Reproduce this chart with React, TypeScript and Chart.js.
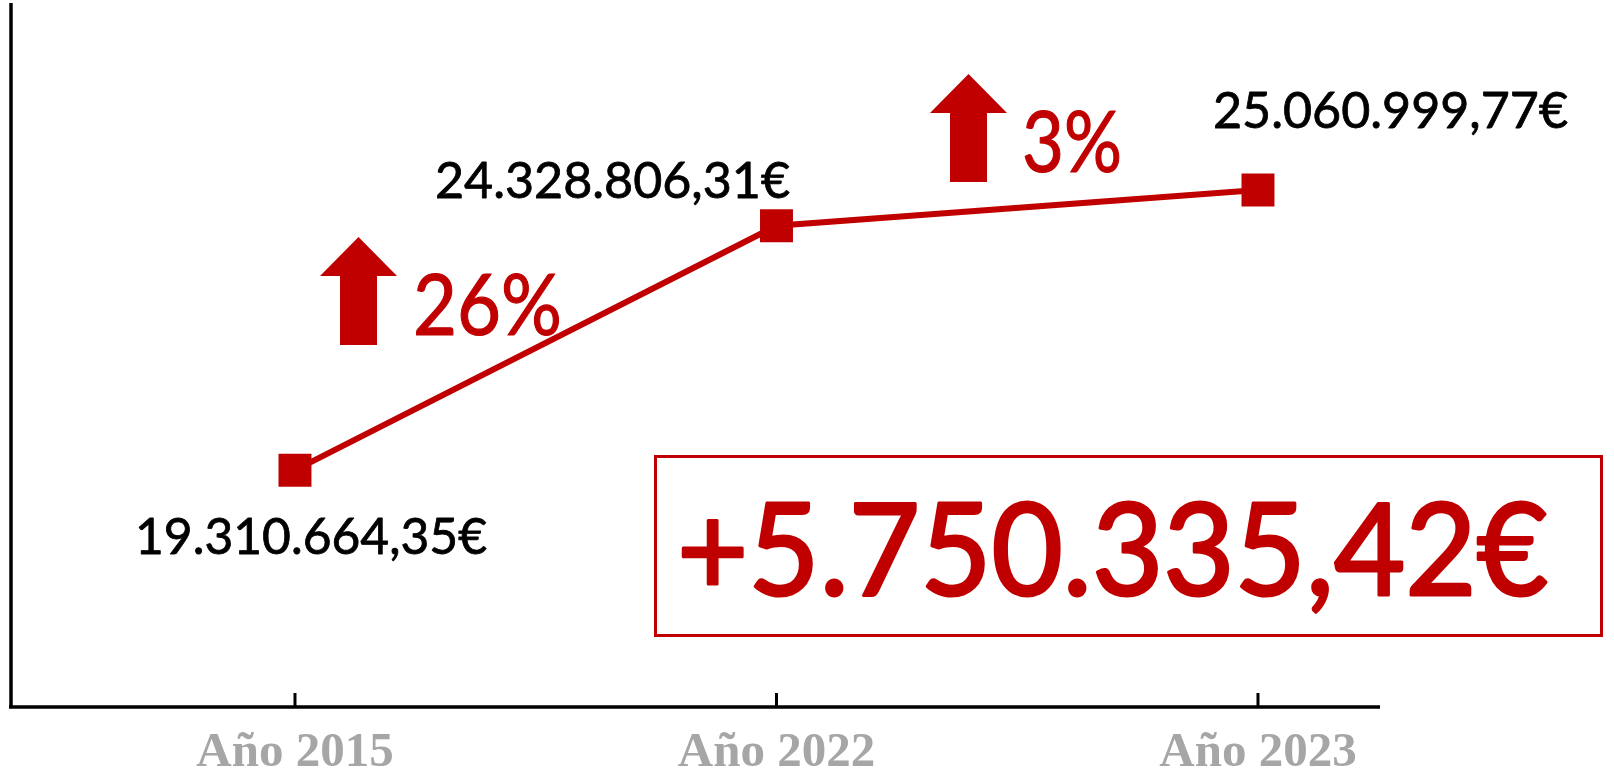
import React, { useEffect, useRef } from 'react';
import { Chart, registerables } from 'chart.js';

Chart.register(...registerables);

// ---- data ----
const categories = ['Año 2015', 'Año 2022', 'Año 2023'];
const values = [19310664.35, 24328806.31, 25060999.77];
const yMin = 14450000;
const yMax = 28900000;

const RED = '#C00000';
const LABEL_FONT = 'Lato, "Noto Sans", sans-serif';

function fmtEuro(v: number): string {
  const [i, d] = v.toFixed(2).split('.');
  return i.replace(/\B(?=(\d{3})+(?!\d))/g, '.') + ',' + d + '€';
}
function pct(a: number, b: number): string {
  return Math.round((b / a - 1) * 100) + '%';
}

const valueLabels = values.map(fmtEuro);
const changeLabels = [pct(values[0], values[1]), pct(values[1], values[2])];
const totalLabel = '+' + fmtEuro(values[2] - values[0]);

function fitText(ctx: CanvasRenderingContext2D, text: string, x: number, y: number, width: number, align: CanvasTextAlign, stroke = 0) {
  const w = ctx.measureText(text).width;
  const s = width / w;
  ctx.save();
  ctx.translate(x, y);
  ctx.scale(s, 1);
  ctx.textAlign = align;
  ctx.textBaseline = 'alphabetic';
  ctx.fillText(text, 0, 0);
  if (stroke > 0) {
    ctx.lineWidth = stroke;
    ctx.lineJoin = 'round';
    ctx.strokeStyle = ctx.fillStyle as string;
    ctx.strokeText(text, 0, 0);
  }
  ctx.restore();
}

function drawArrow(ctx: CanvasRenderingContext2D, cx: number, top: number) {
  ctx.beginPath();
  ctx.moveTo(cx, top);
  ctx.lineTo(cx + 38.5, top + 39);
  ctx.lineTo(cx + 18.5, top + 39);
  ctx.lineTo(cx + 18.5, top + 108);
  ctx.lineTo(cx - 18.5, top + 108);
  ctx.lineTo(cx - 18.5, top + 39);
  ctx.lineTo(cx - 38.5, top + 39);
  ctx.closePath();
  ctx.fill();
}

const decorPlugin = {
  id: 'decor',
  beforeDatasetsDraw(chart: any) {
    const ctx: CanvasRenderingContext2D = chart.ctx;
    const { left, right, top, bottom } = chart.chartArea;
    const xs = chart.scales.x;
    ctx.save();
    ctx.strokeStyle = '#000';
    ctx.lineWidth = 3.5;
    ctx.beginPath();
    ctx.moveTo(left, top);
    ctx.lineTo(left, bottom + 1.5);
    ctx.moveTo(left - 2, bottom);
    ctx.lineTo(right, bottom);
    ctx.stroke();
    ctx.lineWidth = 3;
    ctx.beginPath();
    categories.forEach((_, i) => {
      const px = xs.getPixelForValue(i);
      ctx.moveTo(px, bottom - 14);
      ctx.lineTo(px, bottom);
    });
    ctx.stroke();
    // category labels
    ctx.fillStyle = '#A6A6A6';
    ctx.font = 'bold 49px "Liberation Serif", "DejaVu Serif", serif';
    ctx.textAlign = 'center';
    ctx.textBaseline = 'alphabetic';
    categories.forEach((c, i) => {
      ctx.fillText(c, xs.getPixelForValue(i), bottom + 59);
    });
    ctx.restore();
  },
  afterDraw(chart: any) {
    const ctx: CanvasRenderingContext2D = chart.ctx;
    ctx.save();
    // value labels
    ctx.fillStyle = '#000';
    ctx.font = `51px ${LABEL_FONT}`;
    fitText(ctx, valueLabels[0], 311, 554, 352, 'center', 0.8);
    fitText(ctx, valueLabels[1], 612.5, 198, 355, 'center', 0.8);
    fitText(ctx, valueLabels[2], 1390.5, 128, 355, 'center', 0.8);
    // arrows and percentages
    ctx.fillStyle = RED;
    drawArrow(ctx, 358.5, 237);
    drawArrow(ctx, 968.5, 74);
    ctx.font = `86px ${LABEL_FONT}`;
    fitText(ctx, changeLabels[0], 413, 335, 149, 'left', 1.2);
    fitText(ctx, changeLabels[1], 1022, 172, 100, 'left', 1.2);
    // total box
    ctx.strokeStyle = RED;
    ctx.lineWidth = 3;
    ctx.strokeRect(655.5, 456.5, 946, 179);
    ctx.font = `128px ${LABEL_FONT}`;
    ctx.fillStyle = RED;
    fitText(ctx, totalLabel, 677, 595, 871, 'left', 3);
    ctx.restore();
  },
};

export default function App() {
  const canvasRef = useRef<HTMLCanvasElement | null>(null);

  useEffect(() => {
    if (!canvasRef.current) return;
    const chart = new Chart(canvasRef.current, {
      type: 'line',
      data: {
        datasets: [
          {
            data: values.map((v, i) => ({ x: i, y: v })),
            borderColor: RED,
            backgroundColor: RED,
            borderWidth: 6,
            tension: 0,
            pointStyle: 'rect',
            pointRadius: 23.3,
            pointHoverRadius: 23.3,
            pointBackgroundColor: RED,
            pointBorderWidth: 0,
          },
        ],
      },
      options: {
        animation: false,
        responsive: false,
        devicePixelRatio: 1,
        events: [],
        clip: false,
        layout: { autoPadding: false, padding: { left: 11, top: 3, right: 234, bottom: 72 } },
        plugins: { legend: { display: false }, tooltip: { enabled: false } },
        scales: {
          x: { type: 'linear', min: -0.5898, max: 2.2534, display: false },
          y: { type: 'linear', min: yMin, max: yMax, display: false },
        },
      },
      plugins: [decorPlugin],
    } as any);
    return () => chart.destroy();
  }, []);

  return (
    <div style={{ position: 'absolute', left: 0, top: 0, width: 1614, height: 779, background: '#fff' }}>
      <canvas ref={canvasRef} width={1614} height={779} style={{ display: 'block' }} />
    </div>
  );
}
